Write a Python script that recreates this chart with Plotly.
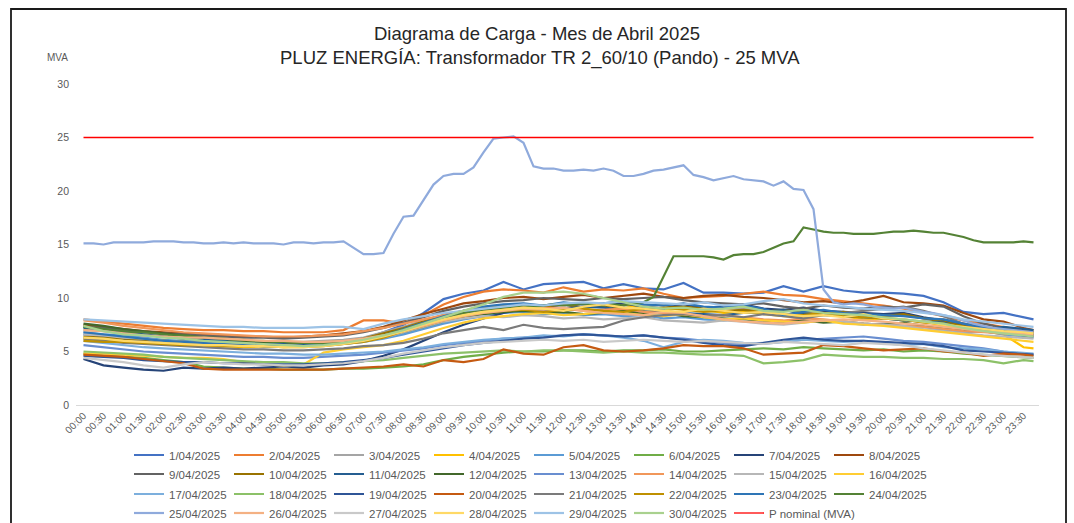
import plotly.graph_objects as go

# ---------------- DATA ----------------
TIMES_15 = [f"{h:02d}:{m:02d}" for h in range(24) for m in (0, 15, 30, 45)]
# half-hour readings plus the last 23:45 reading
TIMES_30 = [t for t in TIMES_15 if t[3:] in ("00", "30")] + ["23:45"]
P_NOMINAL_MVA = 25

D01 = [6.6,6.4,6.2,6.0,5.9,5.8,5.7,5.6,5.6,5.5,5.5,5.6,
       5.7,5.9,6.2,6.8,7.5,8.6,9.9,10.4,10.7,11.5,10.8,11.3,
       11.4,11.5,10.9,11.3,10.9,10.8,11.4,10.5,10.5,10.4,10.5,11.1,
       10.6,11.1,10.7,10.5,10.5,10.4,10.2,9.6,8.7,8.5,8.6,8.2,8.0]
D02 = [8.0,7.8,7.6,7.4,7.2,7.1,7.0,7.0,6.9,6.9,6.8,6.8,
       6.8,7.0,7.9,7.9,7.6,8.4,9.4,10.1,10.6,10.8,10.7,10.5,
       11.0,10.6,10.8,10.7,10.9,10.4,10.0,10.1,10.2,10.4,10.6,10.3,
       10.2,9.9,9.7,9.5,9.3,9.0,8.7,8.3,7.9,7.6,7.3,7.0,6.8]
D03 = [7.0,6.9,6.7,6.5,6.4,6.2,6.1,6.0,6.0,5.9,5.9,5.9,
       6.0,6.1,6.3,6.8,7.3,7.9,8.4,8.8,9.1,9.3,9.4,9.2,
       9.3,9.4,9.5,9.3,9.2,9.4,9.1,9.0,9.2,9.0,8.8,8.9,
       8.7,8.8,8.6,8.5,8.3,8.4,8.1,8.0,7.6,7.3,7.0,6.8,6.7]
D04 = [6.2,6.1,6.0,5.8,5.7,5.6,5.5,5.5,5.4,5.5,5.4,5.5,
       5.6,5.8,6.0,6.5,7.0,7.6,8.1,8.6,8.9,9.0,9.2,9.0,
       8.8,9.1,9.3,9.4,9.0,8.8,9.2,8.9,8.6,8.7,8.5,8.3,
       8.2,8.6,8.3,8.0,8.1,7.9,7.8,7.4,7.1,6.9,6.6,5.4,5.3]
D05 = [6.8,6.6,6.5,6.3,6.1,6.0,5.9,5.8,5.7,5.7,5.6,5.6,
       5.6,5.7,5.9,6.2,6.6,7.1,7.6,8.0,8.3,8.6,8.7,8.5,
       8.6,8.4,8.5,8.3,8.4,8.1,8.2,8.0,7.9,8.1,7.8,7.6,
       7.8,7.9,7.7,7.5,7.6,7.4,7.3,7.0,6.8,6.9,6.6,6.4,6.3]
D06 = [4.8,4.6,4.5,4.4,4.2,4.0,3.6,3.5,3.4,3.4,3.3,3.3,
       3.3,3.4,3.4,3.5,3.6,3.8,4.2,4.5,4.7,4.9,5.0,5.0,
       5.1,5.1,5.0,5.1,5.1,5.2,5.0,5.0,5.1,5.2,5.3,5.2,
       5.4,5.3,5.2,5.1,5.2,5.0,5.1,5.0,4.8,4.7,4.6,4.5,4.4]
D07 = [4.3,3.7,3.5,3.3,3.2,3.5,3.4,3.5,3.4,3.5,3.6,3.5,
       3.7,3.8,4.1,4.6,5.2,6.0,6.8,7.5,8.1,8.6,9.0,9.2,
       9.4,9.1,9.3,9.5,9.2,9.0,9.4,9.1,9.2,9.4,9.0,8.9,
       9.1,8.8,8.7,8.6,8.5,8.6,8.2,7.9,7.5,7.2,6.9,6.5,6.4]
D08 = [7.5,7.3,7.1,6.9,6.8,6.7,6.6,6.5,6.4,6.4,6.3,6.4,
       6.5,6.7,6.9,7.3,7.9,8.5,9.0,9.5,9.7,10.0,10.1,9.9,
       10.1,10.3,10.0,10.2,10.4,10.1,10.0,10.2,10.3,10.1,10.0,9.8,
       9.6,9.7,9.5,9.8,10.2,9.6,9.5,9.3,8.6,8.0,7.8,7.2,7.0]
D09 = [7.3,7.2,7.0,6.8,6.7,6.6,6.5,6.4,6.3,6.3,6.2,6.3,
       6.4,6.5,6.8,7.2,7.7,8.2,8.8,9.2,9.5,9.7,9.8,10.0,
       9.9,9.8,10.0,9.9,10.0,10.1,9.8,9.6,9.5,9.4,9.5,9.2,
       9.0,9.3,9.1,9.0,9.2,9.1,9.4,9.2,8.3,7.6,7.2,6.9,6.8]
D10 = [6.4,6.3,6.2,6.1,6.0,5.9,5.8,5.8,5.7,5.7,5.7,5.7,
       5.8,5.9,6.2,6.7,7.2,7.8,8.4,8.8,9.1,9.3,9.0,9.2,
       9.4,9.1,9.3,9.0,8.9,9.1,9.2,9.0,8.8,8.9,8.7,8.9,
       8.6,8.5,8.7,8.4,8.3,8.5,8.1,7.8,7.4,7.1,6.9,6.7,6.6]
D11 = [7.2,7.0,6.8,6.6,6.4,6.2,6.1,6.0,5.9,5.8,5.7,5.6,
       5.6,5.8,6.0,6.3,6.9,7.5,8.1,8.6,8.9,9.1,9.0,8.8,
       9.0,9.2,9.1,8.9,8.7,8.8,8.6,8.5,8.4,8.6,8.7,8.9,
       8.5,8.4,8.3,8.2,8.1,7.9,7.8,7.7,7.2,7.0,7.3,7.1,7.0]
D12 = [7.6,7.4,7.1,6.9,6.7,6.5,6.3,6.2,6.0,5.9,5.9,5.8,
       5.8,5.9,6.1,6.4,6.8,7.3,7.8,8.2,8.5,8.7,8.8,8.6,
       8.7,8.5,8.6,8.8,8.5,8.6,8.3,8.2,8.1,8.0,7.9,7.8,
       7.9,7.7,7.8,7.6,7.5,7.7,7.4,7.2,7.0,6.9,6.8,6.7,6.6]
D13 = [5.6,5.4,5.2,5.0,4.9,4.8,4.7,4.6,4.5,4.5,4.4,4.4,
       4.5,4.6,4.7,4.9,5.1,5.3,5.6,5.8,6.0,6.2,6.3,6.4,
       6.5,6.6,6.5,6.4,6.5,6.3,6.2,6.0,5.8,5.7,5.8,5.9,
       6.1,6.2,6.3,6.4,6.2,6.0,5.9,5.7,5.5,5.3,5.0,4.8,4.7]
D14 = [7.9,7.7,7.4,7.2,7.0,6.8,6.7,6.6,6.5,6.4,6.4,6.4,
       6.5,6.6,6.9,7.2,7.6,8.0,8.4,8.7,8.9,9.0,9.2,9.1,
       9.0,8.8,8.9,9.0,8.7,8.6,8.5,8.3,8.4,8.2,8.0,7.9,
       8.1,8.0,7.8,7.6,7.5,7.4,7.3,7.1,6.9,6.8,6.7,6.6,6.5]
D15 = [6.6,6.5,6.3,6.2,6.0,5.9,5.8,5.8,5.7,5.6,5.6,5.5,
       5.6,5.7,5.9,6.3,6.8,7.3,7.8,8.1,8.3,8.2,8.4,8.3,
       8.1,8.2,8.0,8.1,8.2,7.9,7.8,7.7,7.9,7.8,7.6,7.5,
       7.7,7.9,7.8,7.6,7.5,7.4,7.1,6.9,6.7,6.5,6.4,6.3,6.2]
D16 = [4.8,4.8,4.7,4.6,4.5,4.4,4.4,4.3,4.0,3.8,3.7,3.8,
       4.9,5.2,5.4,5.6,6.0,6.6,7.2,7.7,8.1,8.3,8.5,8.6,
       8.4,8.5,8.7,8.6,8.4,8.3,8.5,8.2,8.0,8.1,7.9,7.8,
       7.7,7.9,7.6,7.5,7.4,7.2,7.0,6.8,6.6,6.4,6.2,6.0,5.9]
D17 = [6.0,5.8,5.6,5.4,5.3,5.2,5.1,5.0,4.9,4.8,4.8,4.7,
       4.7,4.8,4.9,5.0,5.2,5.4,5.7,5.9,6.1,6.2,6.3,6.5,
       6.4,6.6,6.5,6.3,6.0,5.4,5.9,6.1,6.0,5.8,5.7,5.9,
       6.1,6.0,5.9,6.0,5.8,5.6,5.7,5.4,5.3,5.2,5.0,4.9,4.8]
D18 = [5.0,4.9,4.8,4.7,4.5,4.4,4.3,4.2,4.1,4.0,4.0,3.9,
       3.9,4.0,4.1,4.2,4.4,4.6,4.8,4.9,5.0,5.1,5.0,5.1,
       5.1,5.0,4.9,5.0,4.9,4.9,4.8,4.7,4.7,4.6,3.9,4.0,
       4.2,4.7,4.6,4.5,4.5,4.4,4.4,4.3,4.3,4.2,3.9,4.2,4.1]
D19 = [4.6,4.5,4.4,4.2,4.1,4.0,4.0,3.9,3.9,3.8,3.8,3.8,
       3.9,4.0,4.2,4.4,4.7,5.0,5.3,5.6,5.8,6.0,6.2,6.3,
       6.5,6.6,6.5,6.4,6.5,6.3,6.1,5.8,5.6,5.5,5.8,6.1,
       6.3,6.1,6.0,6.0,5.9,5.8,5.7,5.5,5.1,5.0,4.9,4.8,4.7]
D20 = [4.7,4.6,4.5,4.3,4.1,3.9,3.4,3.3,3.3,3.3,3.3,3.3,
       3.3,3.4,3.5,3.6,3.8,3.6,4.2,4.0,4.3,5.2,4.8,4.7,
       5.4,5.6,5.1,5.0,5.1,5.3,5.6,5.5,5.5,5.3,4.7,4.8,
       4.9,5.6,5.5,5.3,5.1,5.2,5.3,5.0,4.9,4.6,4.8,4.7,4.6]
D21 = [6.2,6.0,5.8,5.7,5.6,5.5,5.4,5.3,5.2,5.2,5.1,5.1,
       5.2,5.3,5.5,5.6,5.8,6.2,6.7,7.0,7.3,7.0,7.5,7.2,
       7.1,7.2,7.3,7.9,8.2,8.4,8.5,8.3,8.4,8.2,8.5,8.3,
       8.1,8.4,8.6,8.8,9.0,9.2,8.8,8.3,7.6,7.3,7.0,6.8,6.7]
D22 = [6.0,5.9,5.9,5.8,5.7,5.6,5.6,5.5,5.5,5.5,5.4,5.4,
       5.5,5.7,5.9,6.3,6.9,7.4,7.9,8.3,8.6,8.8,8.9,8.7,
       8.9,9.0,8.8,8.7,9.0,9.1,8.9,8.7,8.8,8.6,8.9,8.5,
       8.4,8.6,8.3,8.2,8.1,8.0,7.7,7.6,7.3,7.1,7.0,6.9,6.8]
D23 = [6.8,6.6,6.4,6.2,6.0,5.9,5.8,5.7,5.6,5.5,5.5,5.5,
       5.6,5.8,6.0,6.5,7.1,7.7,8.3,8.8,9.2,9.4,9.5,9.3,
       9.6,9.4,9.5,9.7,9.4,9.3,9.5,9.2,9.1,9.3,9.0,8.4,
       8.7,8.9,8.6,8.5,8.4,8.3,8.1,8.0,7.6,7.2,6.9,6.7,6.6]
# 24/04 and 25/04 read at 15-minute resolution
D24 = [7.3,7.2,7.1,7.0,6.9,6.8,6.8,6.7,6.6,6.5,
       6.5,6.4,6.3,6.3,6.2,6.1,6.1,6.0,6.0,5.9,
       5.9,5.8,5.8,5.8,5.8,5.9,5.9,6.0,6.1,6.3,
       6.5,6.8,7.0,7.3,7.6,7.9,8.2,8.4,8.6,8.8,
       8.9,9.0,9.1,9.2,9.3,9.2,9.3,9.4,9.3,9.4,
       9.5,9.4,9.3,9.4,9.3,9.5,
       9.6,10.1,12.0,13.9,13.9,13.9,13.9,13.8,13.6,14.0,
       14.1,14.1,14.3,14.7,15.1,15.3,16.6,16.4,16.2,16.1,
       16.1,16.0,16.0,16.0,16.1,16.2,16.2,16.3,16.2,16.1,
       16.1,15.9,15.7,15.4,15.2,15.2,15.2,15.2,15.3,15.2]
D25 = [15.1,15.1,15.0,15.2,15.2,15.2,15.2,15.3,15.3,15.3,
       15.2,15.2,15.1,15.1,15.2,15.1,15.2,15.1,15.1,15.1,
       15.0,15.2,15.2,15.1,15.2,15.2,15.3,
       14.7,14.1,14.1,14.2,16.0,17.6,17.7,19.2,20.6,21.4,
       21.6,21.6,22.2,23.6,24.9,25.0,25.1,24.5,22.3,22.1,
       22.1,21.9,21.9,22.0,21.9,22.1,21.9,21.4,21.4,21.6,
       21.9,22.0,22.2,22.4,21.5,21.3,21.0,21.2,21.4,21.1,
       21.0,20.9,20.5,20.9,20.2,20.1,18.3,10.8,9.6,9.4,
       9.5,9.4,9.2,9.1,9.0,9.1,8.9,8.7,8.6,8.4,
       8.2,7.9,7.6,7.4,7.2,7.1,7.0,6.9,6.8]
D26 = [7.0,6.9,6.7,6.5,6.4,6.3,6.3,6.2,6.1,6.0,6.0,5.9,
       5.9,6.0,6.2,6.5,6.9,7.4,7.9,8.3,8.6,8.8,9.0,8.9,
       9.1,8.8,8.6,8.5,8.4,8.7,8.6,8.3,8.0,7.8,7.7,7.6,
       7.8,7.9,8.0,7.9,7.8,7.6,7.5,7.3,7.1,6.9,6.8,6.7,6.6]
D27 = [4.4,4.2,4.0,3.7,3.5,3.8,4.0,3.9,3.8,3.8,3.7,3.7,
       3.8,3.9,4.1,4.4,4.8,5.1,5.4,5.6,5.8,5.9,6.0,6.1,
       6.0,6.1,5.9,6.0,6.1,6.0,5.9,6.0,5.9,5.8,5.7,5.9,
       5.8,5.7,5.6,5.8,5.7,5.6,5.3,5.1,4.9,4.7,4.6,4.5,4.4]
D28 = [6.3,6.2,6.0,5.9,5.8,5.7,5.6,5.6,5.5,5.5,5.4,5.4,
       5.5,5.7,6.0,6.4,6.9,7.5,8.0,8.4,8.7,8.9,9.1,9.0,
       8.8,9.2,9.4,9.1,9.0,8.8,8.7,9.0,8.8,8.6,8.7,8.5,
       8.3,8.4,8.2,8.5,8.1,8.0,7.8,7.5,7.3,7.1,6.9,6.8,6.7]
D29 = [8.0,7.9,7.8,7.7,7.6,7.5,7.4,7.3,7.3,7.2,7.2,7.2,
       7.3,7.3,7.1,7.6,8.0,8.3,8.6,8.8,9.0,9.2,9.4,9.3,
       9.5,9.6,9.5,9.7,9.6,9.5,9.4,9.6,9.3,9.4,9.7,9.9,
       9.5,9.3,9.2,9.0,8.9,8.8,8.6,8.4,8.0,7.8,7.6,7.4,7.3]
D30 = [7.4,6.9,6.6,6.5,6.3,6.2,6.0,5.9,5.8,5.7,5.6,5.5,
       5.6,5.8,6.1,6.5,7.0,7.6,8.2,8.8,9.4,10.1,10.5,10.5,
       10.6,10.4,10.0,9.6,9.2,9.0,9.1,8.9,9.0,9.2,8.8,8.7,
       8.9,8.6,8.5,8.4,8.2,8.0,7.8,7.6,7.2,6.9,6.7,6.5,6.4]

DAYS = [D01, D02, D03, D04, D05, D06, D07, D08, D09, D10,
        D11, D12, D13, D14, D15, D16, D17, D18, D19, D20,
        D21, D22, D23, D24, D25, D26, D27, D28, D29, D30]
DAY_NAMES = [f"{d}/04/2025" for d in range(1, 31)]
TICK_LABELS = [t for t in TIMES_15 if t[3:] in ("00", "30")]
TITLE_1 = "Diagrama de Carga - Mes de Abril 2025"
TITLE_2 = "PLUZ ENERGÍA: Transformador TR 2_60/10 (Pando) - 25 MVA"

# ---------------- STYLE ----------------
COLORS = ["#4472C4", "#ED7D31", "#A5A5A5", "#FFC000", "#5B9BD5", "#70AD47",
          "#264478", "#9E480E", "#636363", "#997300", "#255E91", "#43682B",
          "#698ED0", "#F1975A", "#B7B7B7", "#FFCD33", "#7CAFDD", "#8CC168",
          "#2F5597", "#C55A11", "#7B7B7B", "#BF9000", "#2E75B6", "#548235",
          "#8FAADC", "#F4B183", "#C9C9C9", "#FFD966", "#9DC3E6", "#A9D18E"]
FONT = "Liberation Sans, Arial, sans-serif"
W, H = 1074, 523
L, R, T, B = 76, 35, 84, 118
PW, PH = W - L - R, H - T - B


def px_x(px):
    return (px - L) / PW


def px_y(py):
    return (H - B - py) / PH


LEGEND_NAMES = ["legend", "legend2", "legend3", "legend4"]

fig = go.Figure()
for i, (name, vals, col) in enumerate(zip(DAY_NAMES, DAYS, COLORS)):
    if len(vals) == 96:
        xs = TIMES_15
    elif len(vals) == len(TIMES_30):
        xs = TIMES_30
    else:
        raise ValueError(f"{name}: {len(vals)} values")
    fig.add_trace(go.Scatter(x=xs, y=vals, mode="lines", name=name,
                             line=dict(color=col, width=2.2),
                             legend=LEGEND_NAMES[i // 8]))

fig.add_trace(go.Scatter(x=TIMES_15, y=[P_NOMINAL_MVA] * len(TIMES_15),
                         mode="lines", name="P nominal (MVA)",
                         line=dict(color="#FF0000", width=1.3),
                         legend="legend4", legendwidth=130))

row_centers = [455, 474, 494, 513]
legend_common = dict(orientation="h", entrywidth=55, entrywidthmode="pixels",
                     itemwidth=30, font=dict(family=FONT, size=11.5, color="#595959"),
                     bgcolor="rgba(0,0,0,0)", borderwidth=0,
                     x=px_x(129), xanchor="left", yanchor="middle",
                     traceorder="normal")
legends = {}
for ln, rc in zip(LEGEND_NAMES, row_centers):
    legends[ln] = dict(legend_common, y=px_y(rc))

title_font = dict(family=FONT, size=18.5, color="#262626")

fig.update_layout(
    width=W, height=H,
    margin=dict(l=L, r=R, t=T, b=B, autoexpand=False),
    paper_bgcolor="white", plot_bgcolor="white",
    showlegend=True,
    xaxis=dict(type="category", categoryorder="array", categoryarray=TIMES_15,
               tickmode="array", tickvals=TICK_LABELS, ticktext=TICK_LABELS,
               tickangle=-45, tickfont=dict(family=FONT, size=10, color="#595959"),
               range=[-0.75, 95.55], showline=True, linecolor="#D9D9D9",
               linewidth=1, showgrid=False, zeroline=False, ticks=""),
    yaxis=dict(range=[0, 30], tickmode="array", tickvals=[0, 5, 10, 15, 20, 25, 30],
               showgrid=False, zeroline=False, showline=False, ticks="",
               ticklabelstandoff=6,
               tickfont=dict(family=FONT, size=10.5, color="#595959")),
    annotations=[
        dict(text=TITLE_1, x=px_x(537), y=px_y(33), xref="paper", yref="paper",
             showarrow=False, xanchor="center", yanchor="middle", font=title_font),
        dict(text=TITLE_2, x=px_x(540), y=px_y(58), xref="paper", yref="paper",
             showarrow=False, xanchor="center", yanchor="middle", font=title_font),
        dict(text="MVA", x=px_x(57), y=px_y(57), xref="paper", yref="paper",
             showarrow=False, xanchor="center", yanchor="middle",
             font=dict(family=FONT, size=10, color="#595959")),
    ],
    shapes=[dict(type="rect", xref="paper", yref="paper",
                 x0=px_x(11), x1=px_x(1066), y0=px_y(560), y1=px_y(9),
                 line=dict(color="#1a1a1a", width=1.8), fillcolor="rgba(0,0,0,0)",
                 layer="above")],
    **legends,
)

fig.write_html("out.html",
               config={"displayModeBar": False},
               post_script="document.body.style.margin='0px';"
                           "document.body.style.overflow='hidden';")
